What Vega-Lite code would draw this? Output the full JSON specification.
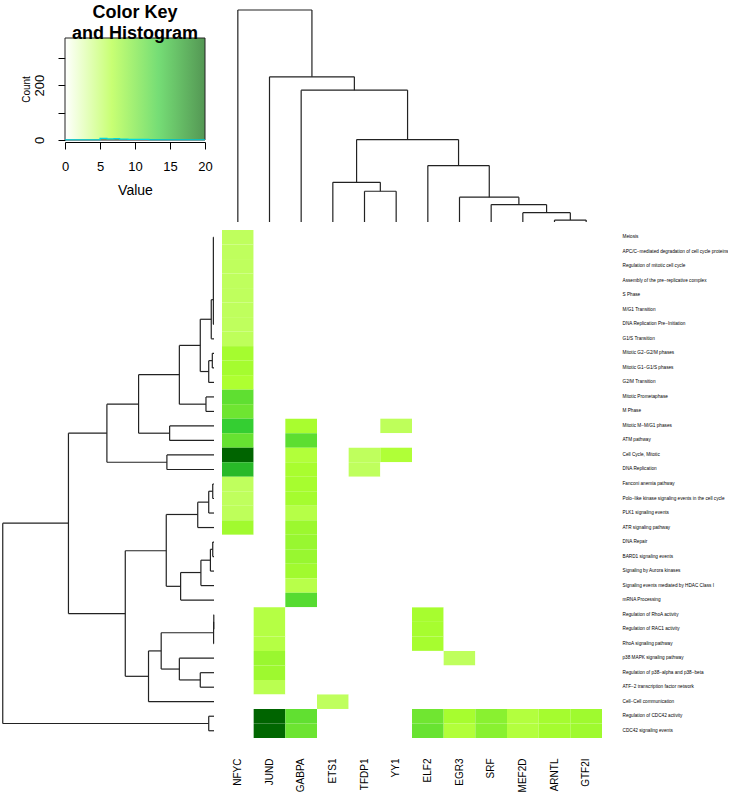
{
  "$schema": "https://vega.github.io/schema/vega-lite/v6.json",
  "padding": {"left": 0, "top": 3, "right": 0, "bottom": 0},
  "config": {
    "view": {"stroke": null},
    "font": "Liberation Sans",
    "axis": {"labelColor": "#000", "tickColor": "#000", "domainColor": "#000", "titleColor": "#000", "grid": false, "labelFont": "Liberation Sans", "titleFont": "Liberation Sans"},
    "title": {"font": "Liberation Sans", "color": "#000"}
  },
  "datasets": {
    "cells": [
      {"pathway": "Meiosis", "NFYC": 5.2, "JUND": 0, "GABPA": 0, "ETS1": 0, "TFDP1": 0, "YY1": 0, "ELF2": 0, "EGR3": 0, "SRF": 0, "MEF2D": 0, "ARNTL": 0, "GTF2I": 0},
      {"pathway": "APC/C−mediated degradation of cell cycle proteins", "NFYC": 5.2, "JUND": 0, "GABPA": 0, "ETS1": 0, "TFDP1": 0, "YY1": 0, "ELF2": 0, "EGR3": 0, "SRF": 0, "MEF2D": 0, "ARNTL": 0, "GTF2I": 0},
      {"pathway": "Regulation of mitotic cell cycle", "NFYC": 5.2, "JUND": 0, "GABPA": 0, "ETS1": 0, "TFDP1": 0, "YY1": 0, "ELF2": 0, "EGR3": 0, "SRF": 0, "MEF2D": 0, "ARNTL": 0, "GTF2I": 0},
      {"pathway": "Assembly of the pre−replicative complex", "NFYC": 5.2, "JUND": 0, "GABPA": 0, "ETS1": 0, "TFDP1": 0, "YY1": 0, "ELF2": 0, "EGR3": 0, "SRF": 0, "MEF2D": 0, "ARNTL": 0, "GTF2I": 0},
      {"pathway": "S Phase", "NFYC": 5.2, "JUND": 0, "GABPA": 0, "ETS1": 0, "TFDP1": 0, "YY1": 0, "ELF2": 0, "EGR3": 0, "SRF": 0, "MEF2D": 0, "ARNTL": 0, "GTF2I": 0},
      {"pathway": "M/G1 Transition", "NFYC": 5.2, "JUND": 0, "GABPA": 0, "ETS1": 0, "TFDP1": 0, "YY1": 0, "ELF2": 0, "EGR3": 0, "SRF": 0, "MEF2D": 0, "ARNTL": 0, "GTF2I": 0},
      {"pathway": "DNA Replication Pre−Initiation", "NFYC": 5.2, "JUND": 0, "GABPA": 0, "ETS1": 0, "TFDP1": 0, "YY1": 0, "ELF2": 0, "EGR3": 0, "SRF": 0, "MEF2D": 0, "ARNTL": 0, "GTF2I": 0},
      {"pathway": "G1/S Transition", "NFYC": 5.3, "JUND": 0, "GABPA": 0, "ETS1": 0, "TFDP1": 0, "YY1": 0, "ELF2": 0, "EGR3": 0, "SRF": 0, "MEF2D": 0, "ARNTL": 0, "GTF2I": 0},
      {"pathway": "Mitotic G2−G2/M phases", "NFYC": 7.1, "JUND": 0, "GABPA": 0, "ETS1": 0, "TFDP1": 0, "YY1": 0, "ELF2": 0, "EGR3": 0, "SRF": 0, "MEF2D": 0, "ARNTL": 0, "GTF2I": 0},
      {"pathway": "Mitotic G1−G1/S phases", "NFYC": 7.1, "JUND": 0, "GABPA": 0, "ETS1": 0, "TFDP1": 0, "YY1": 0, "ELF2": 0, "EGR3": 0, "SRF": 0, "MEF2D": 0, "ARNTL": 0, "GTF2I": 0},
      {"pathway": "G2/M Transition", "NFYC": 6.6, "JUND": 0, "GABPA": 0, "ETS1": 0, "TFDP1": 0, "YY1": 0, "ELF2": 0, "EGR3": 0, "SRF": 0, "MEF2D": 0, "ARNTL": 0, "GTF2I": 0},
      {"pathway": "Mitotic Prometaphase", "NFYC": 10.9, "JUND": 0, "GABPA": 0, "ETS1": 0, "TFDP1": 0, "YY1": 0, "ELF2": 0, "EGR3": 0, "SRF": 0, "MEF2D": 0, "ARNTL": 0, "GTF2I": 0},
      {"pathway": "M Phase", "NFYC": 10.1, "JUND": 0, "GABPA": 0, "ETS1": 0, "TFDP1": 0, "YY1": 0, "ELF2": 0, "EGR3": 0, "SRF": 0, "MEF2D": 0, "ARNTL": 0, "GTF2I": 0},
      {"pathway": "Mitotic M−M/G1 phases", "NFYC": 13.2, "JUND": 0, "GABPA": 6.9, "ETS1": 0, "TFDP1": 0, "YY1": 5.3, "ELF2": 0, "EGR3": 0, "SRF": 0, "MEF2D": 0, "ARNTL": 0, "GTF2I": 0},
      {"pathway": "ATM pathway", "NFYC": 10.5, "JUND": 0, "GABPA": 11.0, "ETS1": 0, "TFDP1": 0, "YY1": 0, "ELF2": 0, "EGR3": 0, "SRF": 0, "MEF2D": 0, "ARNTL": 0, "GTF2I": 0},
      {"pathway": "Cell Cycle, Mitotic", "NFYC": 20, "JUND": 0, "GABPA": 6.3, "ETS1": 0, "TFDP1": 5.2, "YY1": 6.4, "ELF2": 0, "EGR3": 0, "SRF": 0, "MEF2D": 0, "ARNTL": 0, "GTF2I": 0},
      {"pathway": "DNA Replication", "NFYC": 14.6, "JUND": 0, "GABPA": 6.9, "ETS1": 0, "TFDP1": 5.2, "YY1": 0, "ELF2": 0, "EGR3": 0, "SRF": 0, "MEF2D": 0, "ARNTL": 0, "GTF2I": 0},
      {"pathway": "Fanconi anemia pathway", "NFYC": 5.2, "JUND": 0, "GABPA": 7.0, "ETS1": 0, "TFDP1": 0, "YY1": 0, "ELF2": 0, "EGR3": 0, "SRF": 0, "MEF2D": 0, "ARNTL": 0, "GTF2I": 0},
      {"pathway": "Polo−like kinase signaling events in the cell cycle", "NFYC": 5.2, "JUND": 0, "GABPA": 7.1, "ETS1": 0, "TFDP1": 0, "YY1": 0, "ELF2": 0, "EGR3": 0, "SRF": 0, "MEF2D": 0, "ARNTL": 0, "GTF2I": 0},
      {"pathway": "PLK1 signaling events", "NFYC": 5.3, "JUND": 0, "GABPA": 5.9, "ETS1": 0, "TFDP1": 0, "YY1": 0, "ELF2": 0, "EGR3": 0, "SRF": 0, "MEF2D": 0, "ARNTL": 0, "GTF2I": 0},
      {"pathway": "ATR signaling pathway", "NFYC": 7.3, "JUND": 0, "GABPA": 7.6, "ETS1": 0, "TFDP1": 0, "YY1": 0, "ELF2": 0, "EGR3": 0, "SRF": 0, "MEF2D": 0, "ARNTL": 0, "GTF2I": 0},
      {"pathway": "DNA Repair", "NFYC": 0, "JUND": 0, "GABPA": 7.8, "ETS1": 0, "TFDP1": 0, "YY1": 0, "ELF2": 0, "EGR3": 0, "SRF": 0, "MEF2D": 0, "ARNTL": 0, "GTF2I": 0},
      {"pathway": "BARD1 signaling events", "NFYC": 0, "JUND": 0, "GABPA": 7.8, "ETS1": 0, "TFDP1": 0, "YY1": 0, "ELF2": 0, "EGR3": 0, "SRF": 0, "MEF2D": 0, "ARNTL": 0, "GTF2I": 0},
      {"pathway": "Signaling by Aurora kinases", "NFYC": 0, "JUND": 0, "GABPA": 7.3, "ETS1": 0, "TFDP1": 0, "YY1": 0, "ELF2": 0, "EGR3": 0, "SRF": 0, "MEF2D": 0, "ARNTL": 0, "GTF2I": 0},
      {"pathway": "Signaling events mediated by HDAC Class I", "NFYC": 0, "JUND": 0, "GABPA": 5.8, "ETS1": 0, "TFDP1": 0, "YY1": 0, "ELF2": 0, "EGR3": 0, "SRF": 0, "MEF2D": 0, "ARNTL": 0, "GTF2I": 0},
      {"pathway": "mRNA Processing", "NFYC": 0, "JUND": 0, "GABPA": 11.4, "ETS1": 0, "TFDP1": 0, "YY1": 0, "ELF2": 0, "EGR3": 0, "SRF": 0, "MEF2D": 0, "ARNTL": 0, "GTF2I": 0},
      {"pathway": "Regulation of RhoA activity", "NFYC": 0, "JUND": 6.0, "GABPA": 0, "ETS1": 0, "TFDP1": 0, "YY1": 0, "ELF2": 7.0, "EGR3": 0, "SRF": 0, "MEF2D": 0, "ARNTL": 0, "GTF2I": 0},
      {"pathway": "Regulation of RAC1 activity", "NFYC": 0, "JUND": 6.0, "GABPA": 0, "ETS1": 0, "TFDP1": 0, "YY1": 0, "ELF2": 7.0, "EGR3": 0, "SRF": 0, "MEF2D": 0, "ARNTL": 0, "GTF2I": 0},
      {"pathway": "RhoA signaling pathway", "NFYC": 0, "JUND": 6.0, "GABPA": 0, "ETS1": 0, "TFDP1": 0, "YY1": 0, "ELF2": 7.0, "EGR3": 0, "SRF": 0, "MEF2D": 0, "ARNTL": 0, "GTF2I": 0},
      {"pathway": "p38 MAPK signaling pathway", "NFYC": 0, "JUND": 7.7, "GABPA": 0, "ETS1": 0, "TFDP1": 0, "YY1": 0, "ELF2": 0, "EGR3": 5.2, "SRF": 0, "MEF2D": 0, "ARNTL": 0, "GTF2I": 0},
      {"pathway": "Regulation of p38−alpha and p38−beta", "NFYC": 0, "JUND": 7.5, "GABPA": 0, "ETS1": 0, "TFDP1": 0, "YY1": 0, "ELF2": 0, "EGR3": 0, "SRF": 0, "MEF2D": 0, "ARNTL": 0, "GTF2I": 0},
      {"pathway": "ATF−2 transcription factor network", "NFYC": 0, "JUND": 5.6, "GABPA": 0, "ETS1": 0, "TFDP1": 0, "YY1": 0, "ELF2": 0, "EGR3": 0, "SRF": 0, "MEF2D": 0, "ARNTL": 0, "GTF2I": 0},
      {"pathway": "Cell−Cell communication", "NFYC": 0, "JUND": 0, "GABPA": 0, "ETS1": 5.2, "TFDP1": 0, "YY1": 0, "ELF2": 0, "EGR3": 0, "SRF": 0, "MEF2D": 0, "ARNTL": 0, "GTF2I": 0},
      {"pathway": "Regulation of CDC42 activity", "NFYC": 0, "JUND": 20, "GABPA": 10.8, "ETS1": 0, "TFDP1": 0, "YY1": 0, "ELF2": 10.0, "EGR3": 7.0, "SRF": 8.6, "MEF2D": 6.2, "ARNTL": 7.1, "GTF2I": 7.4},
      {"pathway": "CDC42 signaling events", "NFYC": 0, "JUND": 19.8, "GABPA": 10.2, "ETS1": 0, "TFDP1": 0, "YY1": 0, "ELF2": 10.4, "EGR3": 6.3, "SRF": 8.6, "MEF2D": 6.2, "ARNTL": 7.1, "GTF2I": 7.4}
    ],
    "rowtree": [
      {"h": 0.3, "a": 1, "b": 7, "ha": 0, "hb": 0},
      {"h": 1.3, "a": 5.3, "b": 8, "ha": 0.3, "hb": 0},
      {"h": 0.8, "a": 9, "b": 10, "ha": 0, "hb": 0},
      {"h": 2.5, "a": 9.5, "b": 11, "ha": 0.8, "hb": 0},
      {"h": 6.5, "a": 6.65, "b": 10.25, "ha": 1.3, "hb": 2.5},
      {"h": 3.8, "a": 12, "b": 13, "ha": 0, "hb": 0},
      {"h": 16.4, "a": 8.45, "b": 12.5, "ha": 6.5, "hb": 3.8},
      {"h": 21, "a": 14, "b": 15, "ha": 0, "hb": 0},
      {"h": 35.7, "a": 10.47, "b": 14.5, "ha": 16.4, "hb": 21},
      {"h": 22.3, "a": 16, "b": 17, "ha": 0, "hb": 0},
      {"h": 50.7, "a": 12.5, "b": 16.5, "ha": 35.7, "hb": 22.3},
      {"h": 0.6, "a": 18, "b": 19, "ha": 0, "hb": 0},
      {"h": 2.5, "a": 18.5, "b": 20, "ha": 0.6, "hb": 0},
      {"h": 7.7, "a": 19.25, "b": 21, "ha": 2.5, "hb": 0},
      {"h": 0.6, "a": 22, "b": 23, "ha": 0, "hb": 0},
      {"h": 1.7, "a": 22.5, "b": 24, "ha": 0.6, "hb": 0},
      {"h": 6.2, "a": 23.25, "b": 25, "ha": 1.7, "hb": 0},
      {"h": 15.8, "a": 24.1, "b": 26, "ha": 6.2, "hb": 0},
      {"h": 22.6, "a": 20.1, "b": 25.05, "ha": 7.7, "hb": 15.8},
      {"h": 0.1, "a": 27, "b": 28, "ha": 0, "hb": 0},
      {"h": 0.2, "a": 27.5, "b": 29, "ha": 0.1, "hb": 0},
      {"h": 6.5, "a": 31, "b": 32, "ha": 0, "hb": 0},
      {"h": 16.4, "a": 30, "b": 31.5, "ha": 0, "hb": 6.5},
      {"h": 25, "a": 28.25, "b": 30.75, "ha": 0.2, "hb": 16.4},
      {"h": 31, "a": 29.5, "b": 33, "ha": 25, "hb": 0},
      {"h": 42, "a": 22.6, "b": 31.25, "ha": 22.6, "hb": 31},
      {"h": 68.9, "a": 14.5, "b": 26.93, "ha": 50.7, "hb": 42},
      {"h": 2.5, "a": 34, "b": 35, "ha": 0, "hb": 0},
      {"h": 100, "a": 20.7, "b": 34.5, "ha": 68.9, "hb": 2.5}
    ],
    "coltree": [
      {"h": 14.5, "a": 5, "b": 6, "ha": 0, "hb": 0},
      {"h": 18.7, "a": 4, "b": 5.5, "ha": 0, "hb": 14.5},
      {"h": 0.9, "a": 11, "b": 12, "ha": 0, "hb": 0},
      {"h": 4.4, "a": 10, "b": 11.5, "ha": 0, "hb": 0.9},
      {"h": 8.2, "a": 9, "b": 10.75, "ha": 0, "hb": 4.4},
      {"h": 11.7, "a": 8, "b": 9.875, "ha": 0, "hb": 8.2},
      {"h": 26.6, "a": 7, "b": 8.94, "ha": 0, "hb": 11.7},
      {"h": 38.9, "a": 4.75, "b": 7.97, "ha": 18.7, "hb": 26.6},
      {"h": 62.2, "a": 3, "b": 6.36, "ha": 0, "hb": 38.9},
      {"h": 68.5, "a": 2, "b": 4.68, "ha": 0, "hb": 62.2},
      {"h": 100, "a": 1, "b": 3.34, "ha": 0, "hb": 68.5}
    ],
    "hist": [
      {"v": 0, "n": 1},
      {"v": 4.8, "n": 1},
      {"v": 5.0, "n": 6},
      {"v": 5.6, "n": 6},
      {"v": 6.0, "n": 4},
      {"v": 7.0, "n": 5},
      {"v": 7.8, "n": 3},
      {"v": 9.0, "n": 2},
      {"v": 12.0, "n": 1},
      {"v": 20, "n": 1}
    ]
  },
  "columns": 2,
  "spacing": 8,
  "bounds": "flush",
  "align": "each",
  "concat": [
    {
      "width": 205,
      "height": 130,
      "title": {"text": ["Color Key", "and Histogram"], "fontSize": 18, "fontWeight": "bold", "anchor": "middle", "dx": 32.5, "offset": -51, "baseline": "bottom", "lineHeight": 21.5},
      "layer": [
        {
          "data": {"values": [{}]},
          "mark": {"type": "rect", "fill": {"gradient": "linear", "x1": 0, "y1": 0, "x2": 1, "y2": 0, "stops": [{"offset": 0, "color": "#ffffff"}, {"offset": 0.3333, "color": "#adff2f"}, {"offset": 0.6667, "color": "#32cd32"}, {"offset": 1, "color": "#006400"}]}, "fillOpacity": 0.67},
          "encoding": {
            "x": {"datum": 0, "type": "quantitative", "scale": {"domain": [0, 20], "range": [65, 205], "nice": false, "zero": false},
              "axis": {"orient": "bottom", "offset": 2, "values": [0, 5, 10, 15, 20], "labelFontSize": 13, "labelPadding": 11, "tickSize": 7, "domain": true, "labelFlush": false, "title": "Value", "titleFontSize": 14, "titleFontWeight": "normal", "titlePadding": 10}},
            "x2": {"datum": 20},
            "y": {"datum": 0, "type": "quantitative", "scale": {"domain": [0, 372], "range": [130, 28], "nice": false, "zero": false},
              "axis": {"orient": "left", "offset": -65, "values": [0, 100, 200, 300], "labelExpr": "datum.value % 200 === 0 ? datum.label : ''", "labelAngle": 270, "labelAlign": "center", "labelBaseline": "bottom", "labelFontSize": 13, "labelPadding": 12, "tickSize": 7, "domain": false, "title": "Count", "titleFontSize": 10, "titleFontWeight": "normal", "titlePadding": 2}},
            "y2": {"datum": 372}
          }
        },
        {
          "data": {"values": [{}]},
          "mark": {"type": "rect", "filled": false, "stroke": "#222", "strokeWidth": 1},
          "encoding": {
            "x": {"datum": 0, "type": "quantitative"},
            "x2": {"datum": 20},
            "y": {"datum": 0, "type": "quantitative"},
            "y2": {"datum": 372}
          }
        },
        {
          "data": {"name": "hist"},
          "mark": {"type": "line", "color": "#00d8e0", "strokeWidth": 1.2, "interpolate": "step-after"},
          "encoding": {
            "x": {"field": "v", "type": "quantitative", "title": "Value"},
            "y": {"field": "n", "type": "quantitative", "title": "Count"}
          }
        }
      ]
    },
    {
      "width": 380,
      "height": 212,
      "data": {"name": "coltree"},
      "layer": [
        {
          "mark": {"type": "rule", "color": "#222", "strokeWidth": 1.2},
          "encoding": {
            "x": {"field": "a", "type": "quantitative", "scale": {"domain": [0.5, 12.5], "nice": false, "zero": false}, "axis": null},
            "x2": {"field": "b"},
            "y": {"field": "h", "type": "quantitative", "scale": {"domain": [0, 100], "nice": false}, "axis": null}
          }
        },
        {
          "mark": {"type": "rule", "color": "#222", "strokeWidth": 1.2},
          "encoding": {
            "x": {"field": "a", "type": "quantitative", "axis": null},
            "y": {"field": "ha", "type": "quantitative", "axis": null},
            "y2": {"field": "h"}
          }
        },
        {
          "mark": {"type": "rule", "color": "#222", "strokeWidth": 1.2},
          "encoding": {
            "x": {"field": "b", "type": "quantitative", "axis": null},
            "y": {"field": "hb", "type": "quantitative", "axis": null},
            "y2": {"field": "h"}
          }
        }
      ]
    },
    {
      "width": 214,
      "height": 508,
      "data": {"name": "rowtree"},
      "layer": [
        {
          "mark": {"type": "rule", "color": "#222", "strokeWidth": 1.2},
          "encoding": {
            "x": {"field": "h", "type": "quantitative", "scale": {"domain": [0, 101.3], "reverse": true, "nice": false, "zero": false}, "axis": null},
            "y": {"field": "a", "type": "quantitative", "scale": {"domain": [0.5, 35.5], "reverse": true, "nice": false, "zero": false}, "axis": null},
            "y2": {"field": "b"}
          }
        },
        {
          "mark": {"type": "rule", "color": "#222", "strokeWidth": 1.2},
          "encoding": {
            "x": {"field": "ha", "type": "quantitative", "axis": null},
            "x2": {"field": "h"},
            "y": {"field": "a", "type": "quantitative", "axis": null}
          }
        },
        {
          "mark": {"type": "rule", "color": "#222", "strokeWidth": 1.2},
          "encoding": {
            "x": {"field": "hb", "type": "quantitative", "axis": null},
            "x2": {"field": "h"},
            "y": {"field": "b", "type": "quantitative", "axis": null}
          }
        }
      ]
    },
    {
      "width": 380,
      "height": 508,
      "data": {"name": "cells"},
      "transform": [{"fold": ["NFYC", "JUND", "GABPA", "ETS1", "TFDP1", "YY1", "ELF2", "EGR3", "SRF", "MEF2D", "ARNTL", "GTF2I"], "as": ["col", "value"]}],
      "mark": {"type": "rect"},
      "encoding": {
        "x": {"field": "col", "type": "nominal", "sort": null, "scale": {"paddingInner": 0, "paddingOuter": 0},
          "axis": {"orient": "bottom", "labelAngle": 270, "labelAlign": "right", "labelBaseline": "middle", "labelFontSize": 10, "ticks": false, "domain": false, "labelPadding": 20, "title": null}},
        "y": {"field": "pathway", "type": "nominal", "sort": null, "scale": {"paddingInner": 0, "paddingOuter": 0},
          "axis": {"orient": "right", "labelFontSize": 4.7, "ticks": false, "domain": false, "labelPadding": 20, "labelLimit": 300, "title": null}},
        "color": {"field": "value", "type": "quantitative", "scale": {"domain": [0, 6.667, 13.333, 20], "range": ["#ffffff", "#adff2f", "#32cd32", "#006400"], "interpolate": "rgb"}, "legend": null}
      }
    }
  ]
}
